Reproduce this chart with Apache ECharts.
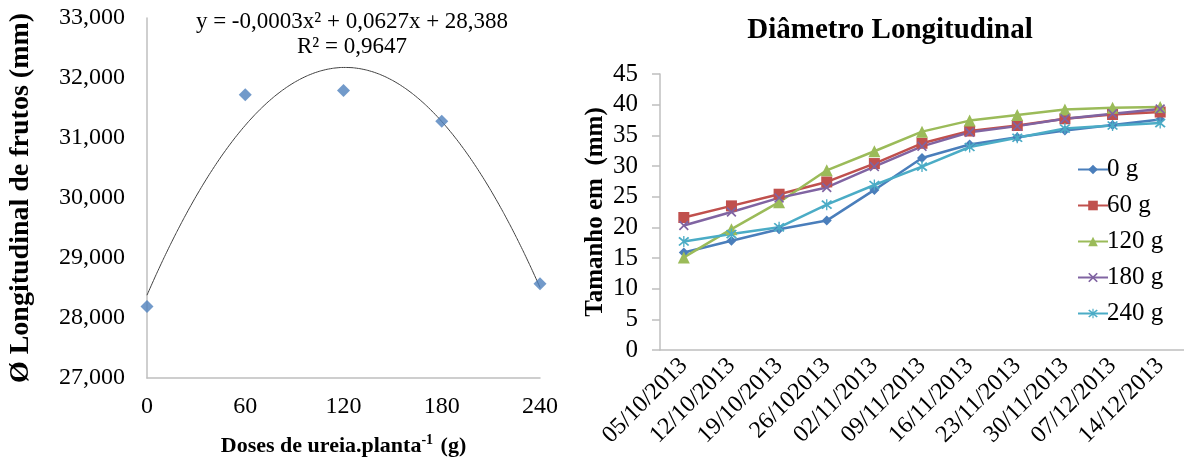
<!DOCTYPE html>
<html>
<head>
<meta charset="utf-8">
<script src="https://cdn.jsdelivr.net/npm/echarts@6/dist/echarts.min.js"></script>
<style>
html,body{margin:0;padding:0;background:#fff;}
#c{width:1184px;height:463px;}
</style>
</head>
<body>
<div id="c"></div>
<script>
// ---- Left chart data ----
var doses = [0, 60, 120, 180, 240];
var diamLong = [28.19, 31.72, 31.79, 31.28, 28.57];
var leftYTicks = [27, 28, 29, 30, 31, 32, 33];

// ---- Right chart data ----
var dates = ['05/10/2013','12/10/2013','19/10/2013','26/102013','02/11/2013','09/11/2013','16/11/2013','23/11/2013','30/11/2013','07/12/2013','14/12/2013'];
var seriesNames = ['0 g','60 g','120 g','180 g','240 g'];
var g0   = [15.9, 17.8, 19.7, 21.1, 26.1, 31.3, 33.5, 34.7, 35.8, 36.7, 37.6];
var g60  = [21.6, 23.5, 25.4, 27.4, 30.4, 33.7, 35.7, 36.6, 37.7, 38.4, 38.8];
var g120 = [15.1, 19.7, 24.1, 29.3, 32.4, 35.6, 37.4, 38.3, 39.2, 39.5, 39.6];
var g180 = [20.3, 22.5, 24.8, 26.5, 29.9, 33.2, 35.5, 36.5, 37.7, 38.5, 39.3];
var g240 = [17.7, 18.9, 20.0, 23.7, 26.9, 29.9, 33.1, 34.6, 36.1, 36.6, 37.0];

// quadratic least-squares trendline from the data points
function quadFit(xs, ys) {
  var n = xs.length, s = [0,0,0,0,0], t = [0,0,0];
  for (var i = 0; i < n; i++) {
    var x = xs[i], y = ys[i];
    for (var k = 0; k < 5; k++) s[k] += Math.pow(x, k);
    for (var k2 = 0; k2 < 3; k2++) t[k2] += Math.pow(x, k2) * y;
  }
  var M = [[s[0],s[1],s[2],t[0]],[s[1],s[2],s[3],t[1]],[s[2],s[3],s[4],t[2]]];
  for (var c = 0; c < 3; c++) {
    for (var r = c + 1; r < 3; r++) {
      var f = M[r][c] / M[c][c];
      for (var j = c; j < 4; j++) M[r][j] -= f * M[c][j];
    }
  }
  var sol = [0,0,0];
  for (var r2 = 2; r2 >= 0; r2--) {
    var v = M[r2][3];
    for (var j2 = r2 + 1; j2 < 3; j2++) v -= M[r2][j2] * sol[j2];
    sol[r2] = v / M[r2][r2];
  }
  return sol; // c0, c1, c2
}
var coef = quadFit(doses, diamLong);
var trend = [];
for (var x = 0; x <= 240; x += 4) {
  trend.push([x, coef[0] + coef[1] * x + coef[2] * x * x]);
}

var FONT = 'Liberation Serif';
var axisGray = '#BFBFBF';
var colors = ['#4A7EBB', '#C0504D', '#9BBB59', '#8064A2', '#4BACC6'];
var xSym = 'path://M0,1.2 L1.2,0 L5,3.8 L8.8,0 L10,1.2 L6.2,5 L10,8.8 L8.8,10 L5,6.2 L1.2,10 L0,8.8 L3.8,5 Z';
var starSym = 'path://M0,1.2 L1.2,0 L5,3.8 L8.8,0 L10,1.2 L6.2,5 L10,8.8 L8.8,10 L5,6.2 L1.2,10 L0,8.8 L3.8,5 Z M4.4,-1 L5.6,-1 L5.6,11 L4.4,11 Z';
var symbols = ['diamond', 'rect', 'triangle', xSym, starSym];
var symSizes = [10, 11, 12, 10, 11];
var rightData = [g0, g60, g120, g180, g240];

var rightSeries = rightData.map(function (d, i) {
  return {
    name: seriesNames[i],
    type: 'line',
    xAxisIndex: 1,
    yAxisIndex: 1,
    data: d,
    symbol: symbols[i],
    symbolSize: symSizes[i],
    lineStyle: { width: 2.5, color: colors[i] },
    itemStyle: { color: colors[i] },
    emphasis: { disabled: true },
    animation: false
  };
});

var chart = echarts.init(document.getElementById('c'));
chart.setOption({
  animation: false,
  textStyle: { fontFamily: FONT },
  grid: [
    { left: 147, top: 18, width: 393, height: 360 },
    { left: 660, top: 74, width: 524, height: 276 }
  ],
  xAxis: [
    {
      gridIndex: 0, type: 'value', min: 0, max: 240, interval: 60,
      axisLine: { show: true, lineStyle: { color: axisGray, width: 1.5 } },
      axisTick: { show: false },
      splitLine: { show: false },
      axisLabel: { color: '#000', fontSize: 24, fontFamily: FONT, margin: 17 },
      name: '{a|Doses de ureia.planta}{s|-1}{a| (g)}',
      nameLocation: 'middle', nameGap: 55,
      nameTextStyle: {
        rich: {
          a: { fontFamily: FONT, fontWeight: 'bold', fontSize: 22, color: '#000', lineHeight: 26 },
          s: { fontFamily: FONT, fontWeight: 'bold', fontSize: 14, color: '#000', lineHeight: 26, verticalAlign: 'top', padding: [0, 2, 8, 0] }
        }
      }
    },
    {
      gridIndex: 1, type: 'category', data: dates, boundaryGap: true,
      axisLine: { show: true, lineStyle: { color: axisGray, width: 1.5 } },
      axisTick: { show: false },
      splitLine: { show: false },
      axisLabel: { color: '#000', fontSize: 24, fontFamily: FONT, rotate: 45, margin: 12, interval: 0 }
    }
  ],
  yAxis: [
    {
      gridIndex: 0, type: 'value', min: leftYTicks[0], max: leftYTicks[leftYTicks.length - 1], interval: 1,
      axisLine: { show: true, lineStyle: { color: axisGray, width: 1.5 } },
      axisTick: { show: false },
      splitLine: { show: false },
      axisLabel: {
        color: '#000', fontSize: 24, fontFamily: FONT, margin: 22,
        formatter: function (v) { return v.toFixed(3).replace('.', ','); }
      },
      name: 'Ø Longitudinal de frutos (mm)',
      nameLocation: 'middle', nameGap: 112,
      nameTextStyle: { fontFamily: FONT, fontWeight: 'bold', fontSize: 28, color: '#000' }
    },
    {
      gridIndex: 1, type: 'value', min: 0, max: 45, interval: 5,
      axisLine: { show: true, lineStyle: { color: axisGray, width: 1.5 } },
      axisTick: { show: true, length: 8, lineStyle: { color: axisGray, width: 1.5 } },
      splitLine: { show: false },
      axisLabel: { color: '#000', fontSize: 25, fontFamily: FONT, margin: 22 },
      name: 'Tamanho em  (mm)',
      nameLocation: 'middle', nameGap: 52,
      nameTextStyle: { fontFamily: FONT, fontWeight: 'bold', fontSize: 25, color: '#000' }
    }
  ],
  legend: {
    data: seriesNames,
    orient: 'vertical',
    left: 1072, top: 152,
    itemWidth: 30, itemHeight: 12, itemGap: 11,
    textStyle: { fontFamily: FONT, fontSize: 25, color: '#000', padding: [0, 0, 0, -6] },
    selectedMode: false
  },
  graphic: [
    { type: 'text', x: 352, y: 22, style: { text: 'y = -0,0003x² + 0,0627x + 28,388', font: '23px "Liberation Serif"', fill: '#000', align: 'center', verticalAlign: 'middle' } },
    { type: 'text', x: 352, y: 47, style: { text: 'R² = 0,9647', font: '23px "Liberation Serif"', fill: '#000', align: 'center', verticalAlign: 'middle' } },
    { type: 'text', x: 890, y: 31, style: { text: 'Diâmetro Longitudinal', font: 'bold 29px "Liberation Serif"', fill: '#000', align: 'center', verticalAlign: 'middle' } }
  ],
  series: [
    {
      name: 'trend', type: 'line', xAxisIndex: 0, yAxisIndex: 0,
      data: trend, showSymbol: false, smooth: true,
      lineStyle: { color: '#404040', width: 1 },
      emphasis: { disabled: true }, silent: true, z: 1
    },
    {
      name: 'pontos', type: 'scatter', xAxisIndex: 0, yAxisIndex: 0,
      data: doses.map(function (d, i) { return [d, diamLong[i]]; }),
      symbol: 'diamond', symbolSize: 13,
      itemStyle: { color: '#4F81BD' }, z: 3
    }
  ].concat(rightSeries)
});
</script>
</body>
</html>
